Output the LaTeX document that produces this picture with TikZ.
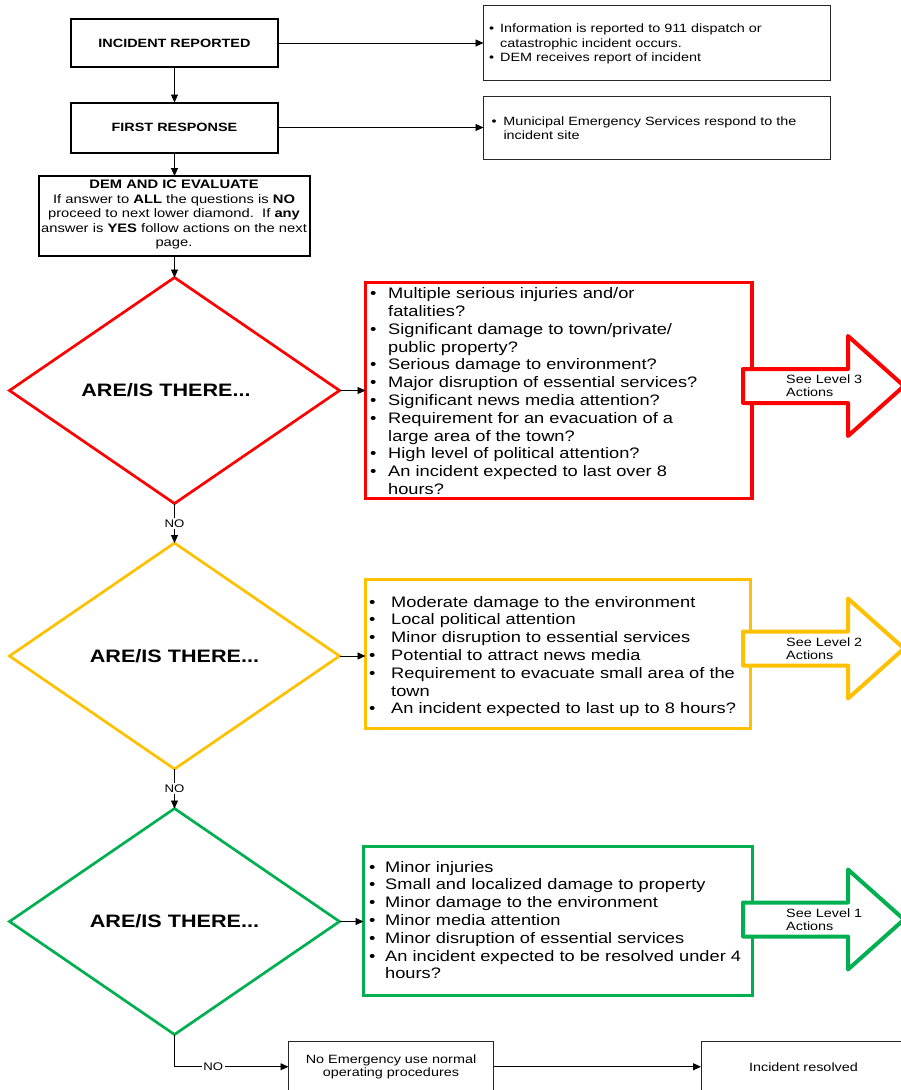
\documentclass[tikz,border=0pt]{standalone}
\usepackage{fontspec}
\setmainfont[FakeStretch=1.2]{Liberation Sans}
\usetikzlibrary{shapes.geometric,arrows.meta}
\definecolor{lvred}{HTML}{FF0000}
\definecolor{lvyel}{HTML}{FFC000}
\definecolor{lvgrn}{HTML}{00B050}
\begin{document}
\begin{tikzpicture}[x=1pt,y=-1pt,
  conn/.style={line width=0.9pt, -{Triangle[length=8pt,width=7pt]}},
  mainbox/.style={draw, line width=2pt, minimum width=207pt, inner sep=0pt, outer sep=0pt, font=\bfseries\fontsize{12}{14.4}\selectfont},
  infobox/.style={draw=black!85, line width=1pt, inner sep=0pt, outer sep=0pt},
  thinbox/.style={draw=black!85, line width=1pt, inner sep=0pt, outer sep=0pt, align=center, font=\fontsize{12}{13.4}\selectfont},
  decision/.style={diamond, draw=#1, line width=2.7pt, minimum width=330pt, minimum height=226pt, inner sep=0pt, outer sep=0pt, font=\bfseries\fontsize{18}{21}\selectfont},
  critbox/.style={draw=#1, line width=3.2pt, inner sep=0pt, outer sep=0pt},
  listtxt/.style={inner sep=0pt, anchor=north west, font=\fontsize{15.2}{17.8}\selectfont},
  smalllist/.style={inner sep=0pt, anchor=north west, font=\fontsize{12}{#1}\selectfont},
  blockarrow/.style={draw=#1, fill=white, line width=4pt, line join=round},
  arrtxt/.style={inner sep=0pt, anchor=west, align=left, font=\fontsize{12}{13.4}\selectfont},
  nolabel/.style={fill=white, inner sep=1.5pt, font=\fontsize{11}{13}\selectfont}
]
\useasboundingbox (0,0) rectangle (901,1090);

% top boxes
\node[mainbox, minimum height=48pt] (inc) at (174.5,43) {INCIDENT REPORTED};
\node[mainbox, minimum height=50pt] (fr) at (174.5,127.5) {FIRST RESPONSE};
\node[infobox, minimum width=347pt, minimum height=75pt] (info1) at (657,43) {};
\node[infobox, minimum width=347pt, minimum height=62.6pt] (info2) at (657,128) {};
\node[smalllist=14.4] (info1txt) at (489,22.4) {\begin{tabular}{@{}p{11pt}@{}l@{}}
\textbullet & Information is reported to 911 dispatch or\\
& catastrophic incident occurs.\\
\textbullet & DEM receives report of incident
\end{tabular}};
\node[smalllist=14] (info2txt) at (491.5,115.2) {\begin{tabular}{@{}p{11.8pt}@{}l@{}}
\textbullet & Municipal Emergency Services respond to the\\
& incident site
\end{tabular}};

% DEM box
\node[draw, line width=2pt, minimum width=271pt, minimum height=80pt, inner sep=0pt, outer sep=0pt] (dem) at (174,216) {};
\node[inner sep=0pt, align=center, font=\fontsize{12.3}{14.5}\selectfont] (demtxt) at (174,214.5) {\textbf{DEM AND IC EVALUATE}\\
If answer to \textbf{ALL} the questions is \textbf{NO}\\
proceed to next lower diamond.\ \ If \textbf{any}\\
answer is \textbf{YES} follow actions on the next\\
page.};

% decisions
\node[decision=lvred] (rd) at (174.5,390.5) {ARE/IS THERE...\hspace*{17pt}};
\node[decision=lvyel] (yd) at (174.5,656) {ARE/IS THERE...};
\node[decision=lvgrn] (gd) at (174.5,921.5) {ARE/IS THERE...};

% criteria boxes
\node[critbox=lvred, minimum width=386.5pt, minimum height=216pt] (rb) at (558.75,390.5) {};
\node[critbox=lvyel, minimum width=385pt, minimum height=149pt] (yb) at (558,654) {};
\node[critbox=lvgrn, minimum width=389pt, minimum height=149pt] (gb) at (558,921) {};

\node[listtxt] (rl) at (370,286) {\begin{tabular}{@{}p{18pt}@{}l@{}}
\textbullet & Multiple serious injuries and/or\\
& fatalities?\\
\textbullet & Significant damage to town/private/\\
& public property?\\
\textbullet & Serious damage to environment?\\
\textbullet & Major disruption of essential services?\\
\textbullet & Significant news media attention?\\
\textbullet & Requirement for an evacuation of a\\
& large area of the town?\\
\textbullet & High level of political attention?\\
\textbullet & An incident expected to last over 8\\
& hours?
\end{tabular}};

\node[listtxt] (yl) at (369,594.5) {\begin{tabular}{@{}p{22pt}@{}l@{}}
\textbullet & Moderate damage to the environment\\
\textbullet & Local political attention\\
\textbullet & Minor disruption to essential services\\
\textbullet & Potential to attract news media\\
\textbullet & Requirement to evacuate small area of the\\
& town\\
\textbullet & An incident expected to last up to 8 hours?
\end{tabular}};

\node[listtxt] (gl) at (369,859.5) {\begin{tabular}{@{}p{16pt}@{}l@{}}
\textbullet & Minor injuries\\
\textbullet & Small and localized damage to property\\
\textbullet & Minor damage to the environment\\
\textbullet & Minor media attention\\
\textbullet & Minor disruption of essential services\\
\textbullet & An incident expected to be resolved under 4\\
& hours?
\end{tabular}};

% block arrows
\draw[blockarrow=lvred] (743,369) -- (848,369) -- (848,336) -- (904,386) -- (848,436) -- (848,403) -- (743,403) -- cycle;
\draw[blockarrow=lvyel] (743,631.5) -- (848,631.5) -- (848,598.5) -- (904,648.5) -- (848,698.5) -- (848,665.5) -- (743,665.5) -- cycle;
\draw[blockarrow=lvgrn] (743,902.5) -- (848,902.5) -- (848,869.5) -- (904,919.5) -- (848,969.5) -- (848,936.5) -- (743,936.5) -- cycle;
\node[arrtxt] (ra) at (786,386) {See Level 3\\Actions};
\node[arrtxt] (ya) at (786,648.5) {See Level 2\\Actions};
\node[arrtxt] (ga) at (786,919.5) {See Level 1\\Actions};

% bottom boxes
\node[thinbox, minimum width=205pt, minimum height=50.5pt] (ne) at (391,1066.75) {No Emergency use normal\\operating procedures};
\node[thinbox, minimum width=205pt, minimum height=50.5pt] (res) at (803.5,1066.75) {Incident resolved};

% connectors
\draw[conn] (inc.east) -- (info1.west |- inc.east);
\draw[conn] (fr.east) -- (info2.west |- fr.east);
\draw[conn] (inc.south) -- (fr.north);
\draw[conn] (fr.south) -- (fr.south |- dem.north);
\draw[conn] (rd.north |- dem.south) -- (rd.north);
\draw[conn] (rd.east) -- (rd.east -| rb.west);
\draw[conn] (yd.east) -- (yd.east -| yb.west);
\draw[conn] (gd.east) -- (gd.east -| gb.west);
\draw[conn] (rd.south) -- node[nolabel] (no1) {NO} (yd.north);
\draw[conn] (yd.south) -- node[nolabel] (no2) {NO} (gd.north);
\draw[conn] (gd.south) |- node[nolabel, pos=0.67] (no3) {NO} (ne.west);
\draw[conn] (ne.east) -- (res.west);
\end{tikzpicture}
\end{document}
